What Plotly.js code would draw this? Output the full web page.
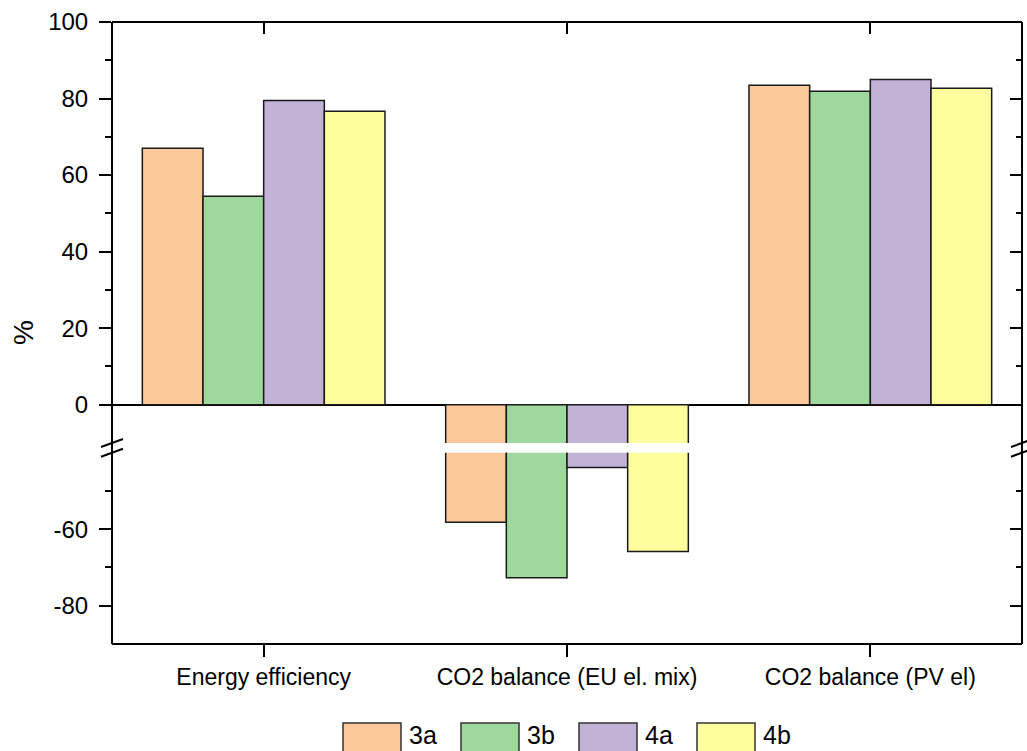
<!DOCTYPE html>
<html>
<head>
<meta charset="utf-8">
<script src="https://cdn.plot.ly/plotly-3.0.1.min.js"></script>
<style>html,body{margin:0;padding:0;background:#fff;}#chart{width:1027px;height:751px;}</style>
</head>
<body>
<div id="chart"></div>
<script>
// ---- data ----
const categories = ["Energy efficiency", "CO2 balance (EU el. mix)", "CO2 balance (PV el)"];
const seriesNames = ["3a", "3b", "4a", "4b"];
const s3a = [67.0, -58.2, 83.5];
const s3b = [54.5, -72.7, 81.9];
const s4a = [79.5, -43.9, 85.0];
const s4b = [76.7, -65.8, 82.7];
const seriesColors = ["#FBC899", "#9ED89C", "#C2B2D6", "#FFFD9D"];
const upperTicks = [0, 20, 40, 60, 80, 100];
const upperMinor = [10, 30, 50, 70, 90];
const lowerTicks = [-60, -80];
const lowerMinor = [-50, -70];
const upperRange = [-10, 100];
const lowerRange = [-90, -40];
const yTitle = "%";

// ---- layout helpers ----
const W = 1027, H = 751, M = {l: 112, r: 5, t: 22, b: 107};
const pw = W - M.l - M.r, ph = H - M.t - M.b;
const fx = px => (px - M.l) / pw;
const fy = py => (H - M.b - py) / ph;
const FONT = "Liberation Sans, Arial, sans-serif";
const upperDomain = [fy(443), 1];
const lowerDomain = [0, fy(452.7)];

const allSeries = [s3a, s3b, s4a, s4b];
const traces = [];
["y", "y2"].forEach(ax => {
  allSeries.forEach((s, i) => {
    traces.push({
      type: "bar", x: categories, y: s, name: seriesNames[i],
      xaxis: "x", yaxis: ax, showlegend: false, hoverinfo: "x+y+name",
      marker: {color: seriesColors[i], line: {color: "#1a1a1a", width: 1.5}}
    });
  });
});
// helper traces so the mirrored (inward-tick) axes are drawn
traces.push({type: "scatter", mode: "markers", x: [0], y: [50], xaxis: "x2", yaxis: "y", marker: {opacity: 0}, showlegend: false, hoverinfo: "skip"});
traces.push({type: "scatter", mode: "markers", x: [categories[0]], y: [50], xaxis: "x", yaxis: "y3", marker: {opacity: 0}, showlegend: false, hoverinfo: "skip"});
traces.push({type: "scatter", mode: "markers", x: [categories[0]], y: [-60], xaxis: "x", yaxis: "y4", marker: {opacity: 0}, showlegend: false, hoverinfo: "skip"});

const tickCommon = {tickcolor: "#000", tickwidth: 2, showgrid: false, showline: false, zeroline: false};

const layout = {
  width: W, height: H,
  margin: M,
  paper_bgcolor: "#fff", plot_bgcolor: "rgba(0,0,0,0)",
  font: {family: FONT, color: "#000"},
  barmode: "group", bargap: 0.2, bargroupgap: 0,
  showlegend: false,
  xaxis: Object.assign({}, tickCommon, {
    type: "category", range: [-0.5, 2.5], anchor: "y2",
    ticks: "outside", ticklen: 12, tickfont: {size: 23, family: FONT}, ticklabelstandoff: 0
  }),
  xaxis2: Object.assign({}, tickCommon, {
    type: "linear", overlaying: "x", side: "top", anchor: "y", range: [-0.5, 2.5],
    tickmode: "array", tickvals: categories.map((c, i) => i), ticks: "inside", ticklen: 12, showticklabels: false
  }),
  yaxis: Object.assign({}, tickCommon, {
    domain: upperDomain, range: upperRange, anchor: "x",
    tickmode: "array", tickvals: upperTicks, ticktext: upperTicks.map(String), ticks: "outside", ticklen: 12,
    minor: {tickmode: "array", tickvals: upperMinor, ticks: "outside", ticklen: 6, tickwidth: 2, tickcolor: "#000"},
    zeroline: true, zerolinecolor: "#000", zerolinewidth: 2,
    tickfont: {size: 24, family: FONT}, ticklabelstandoff: 6
  }),
  yaxis2: Object.assign({}, tickCommon, {
    domain: lowerDomain, range: lowerRange, anchor: "x",
    tickmode: "array", tickvals: lowerTicks, ticktext: lowerTicks.map(String), ticks: "outside", ticklen: 12,
    minor: {tickmode: "array", tickvals: lowerMinor, ticks: "outside", ticklen: 6, tickwidth: 2, tickcolor: "#000"},
    tickfont: {size: 24, family: FONT}, ticklabelstandoff: 6
  }),
  yaxis3: Object.assign({}, tickCommon, {
    overlaying: "y", side: "right", anchor: "x", range: upperRange,
    tickmode: "array", tickvals: upperTicks, ticks: "inside", ticklen: 12, showticklabels: false,
    minor: {tickmode: "array", tickvals: upperMinor, ticks: "inside", ticklen: 6, tickwidth: 2, tickcolor: "#000"}
  }),
  yaxis4: Object.assign({}, tickCommon, {
    overlaying: "y2", side: "right", anchor: "x", range: lowerRange,
    tickmode: "array", tickvals: lowerTicks, ticks: "inside", ticklen: 12, showticklabels: false,
    minor: {tickmode: "array", tickvals: lowerMinor, ticks: "inside", ticklen: 6, tickwidth: 2, tickcolor: "#000"}
  }),
  shapes: [],
  annotations: []
};

// frame
const frameLine = {color: "#000", width: 2};
layout.shapes.push({type: "line", xref: "paper", yref: "paper", x0: 0, x1: 0, y0: 0, y1: 1, line: frameLine, layer: "above"});
layout.shapes.push({type: "line", xref: "paper", yref: "paper", x0: 1, x1: 1, y0: 0, y1: 1, line: frameLine, layer: "above"});
layout.shapes.push({type: "line", xref: "paper", yref: "paper", x0: 0, x1: 1, y0: 1, y1: 1, line: frameLine, layer: "above"});
layout.shapes.push({type: "line", xref: "paper", yref: "paper", x0: 0, x1: 1, y0: 0, y1: 0, line: frameLine, layer: "above"});

// axis break marks
[0, 1].forEach(xa => {
  [upperDomain[0], lowerDomain[1]].forEach(ya => {
    layout.shapes.push({
      type: "line", xref: "paper", yref: "paper",
      xsizemode: "pixel", xanchor: xa, x0: -11, x1: 11,
      ysizemode: "pixel", yanchor: ya, y0: -4, y1: 4,
      line: {color: "#000", width: 2}, layer: "above"
    });
  });
});

// y title
layout.annotations.push({
  text: yTitle, xref: "paper", yref: "paper", x: 0, y: 0.5, xshift: -89,
  xanchor: "center", yanchor: "middle", textangle: -90, showarrow: false,
  font: {size: 28, family: FONT, color: "#000"}
});

// legend (large swatches)
seriesNames.forEach((n, i) => {
  layout.shapes.push({
    type: "rect", xref: "paper", yref: "paper",
    x0: fx(343 + 118 * i), x1: fx(401 + 118 * i), y0: fy(723), y1: fy(765),
    fillcolor: seriesColors[i], line: {color: "#333", width: 1.5}
  });
  layout.annotations.push({
    text: n, xref: "paper", yref: "paper", x: fx(407 + 118 * i), y: fy(735),
    xanchor: "left", yanchor: "middle", showarrow: false,
    font: {size: 25, family: FONT, color: "#000"}
  });
});

Plotly.newPlot("chart", traces, layout, {displayModeBar: false, staticPlot: true});
</script>
</body>
</html>
